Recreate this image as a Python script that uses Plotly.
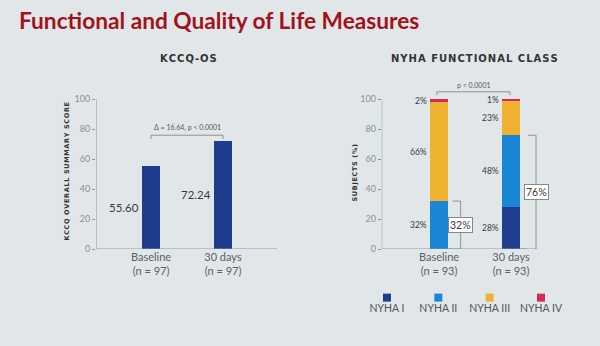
import plotly.graph_objects as go

# ---------------- data ----------------
kccq_categories = ["Baseline<br>(n = 97)", "30 days<br>(n = 97)"]
kccq_values = [55.60, 72.24]
kccq_labels = ["55.60", "72.24"]
kccq_note = "Δ = 16.64, p < 0.0001"

nyha_categories = ["Baseline<br>(n = 93)", "30 days<br>(n = 93)"]
nyha_classes = ["NYHA I", "NYHA II", "NYHA III", "NYHA IV"]
nyha_I = [0, 28]
nyha_II = [32, 48]
nyha_III = [66, 23]
nyha_IV = [2, 1]
nyha_improved = [32, 76]          # NYHA I + II
nyha_note = "p < 0.0001"
y_ticks = [0, 20, 40, 60, 80, 100]

# ---------------- styles ----------------
W, H = 600, 346
BG = "#e1e7e8"
NAVY = "#1f3b8c"
COLORS = ["#213d8f", "#1a86d6", "#f1b130", "#d42a5a"]
GRAY = "#8e9394"
TXT = "#3a3a3a"
FONT = "Lato"


def px_x(p):
    return p / W


def px_y(p):
    return 1 - p / H


def spaced(s):
    return "\u200a".join(s)


fig = go.Figure()

xs = [0, 1]

# KCCQ bars
fig.add_trace(go.Bar(x=xs, y=kccq_values, marker=dict(color=NAVY, line=dict(width=0)),
                     width=0.25, xaxis="x", yaxis="y", showlegend=False))

# NYHA stacked bars
for name, vals, col in zip(nyha_classes, [nyha_I, nyha_II, nyha_III, nyha_IV], COLORS):
    fig.add_trace(go.Bar(x=xs, y=vals, name=name, marker=dict(color=col, line=dict(width=0)),
                         width=0.25, xaxis="x2", yaxis="y2", showlegend=False))

# Legend (manual, marker above label)
fig.add_trace(go.Scatter(x=[0, 1, 2, 3], y=[0.5] * 4, mode="markers+text",
                         marker=dict(symbol="square", size=8, color=COLORS),
                         text=nyha_classes, textposition="bottom center",
                         textfont=dict(family=FONT, size=10.5, color="#555"),
                         cliponaxis=False,
                         xaxis="x3", yaxis="y3", showlegend=False, hoverinfo="skip"))

ydom = [px_y(252.7), px_y(82.5)]
yax_common = dict(range=[0, 112], tickvals=y_ticks, showgrid=False, zeroline=False,
                  showline=False, ticks="outside", ticklen=3, tickcolor=GRAY,
                  tickfont=dict(family=FONT, size=9, color="#8a8f90"), fixedrange=True)
xax_common = dict(tickvals=xs, showgrid=False, zeroline=False, showline=False, ticks="",
                  tickfont=dict(family=FONT, size=11, color="#5a5f60"), fixedrange=True)

fig.update_layout(
    width=W, height=H, margin=dict(l=0, r=0, t=0, b=0),
    paper_bgcolor=BG, plot_bgcolor="rgba(0,0,0,0)",
    barmode="stack",
    xaxis=dict(domain=[px_x(96), px_x(277)], range=[-0.764, 1.75], ticktext=kccq_categories, **xax_common),
    yaxis=dict(domain=ydom, **yax_common),
    xaxis2=dict(domain=[px_x(381.7), px_x(560)], range=[-0.796, 1.68], ticktext=nyha_categories,
                anchor="y2", **xax_common),
    yaxis2=dict(domain=ydom, anchor="x2", **yax_common),
    xaxis3=dict(domain=[px_x(370), px_x(560)], range=[-0.331, 3.37], visible=False, anchor="y3", fixedrange=True),
    yaxis3=dict(domain=[px_y(318), px_y(286)], range=[0, 1], visible=False, anchor="x3", fixedrange=True),
)

shapes = []
ann = []
line = dict(color=GRAY, width=1)

# axis lines as shapes
for xa, ya, xkey, xend in [("x", "y", "xaxis", 1.75), ("x2", "y2", "xaxis2", 1.22)]:
    rng = fig.layout[xkey].range
    shapes.append(dict(type="line", xref=xa, yref=ya, x0=rng[0], x1=rng[0], y0=0, y1=100, line=line))
    shapes.append(dict(type="line", xref=xa, yref=ya, x0=rng[0], x1=xend, y0=0, y1=0, line=line))

# KCCQ value labels
for x, v, t in zip(xs, kccq_values, kccq_labels):
    ann.append(dict(x=x, y=v / 2, xref="x", yref="y", text=t, showarrow=False, xanchor="right",
                    xshift=-10, font=dict(family=FONT, size=11.5, color=TXT)))

# KCCQ bracket
by = 76
shapes.append(dict(type="line", xref="x", yref="y", x0=0, x1=1, y0=by, y1=by, line=line))
shapes.append(dict(type="line", xref="x", yref="y", x0=0, x1=0, y0=by, y1=by - 2.5, line=line))
shapes.append(dict(type="line", xref="x", yref="y", x0=1, x1=1, y0=by, y1=by - 2.5, line=line))
ann.append(dict(x=0.5, y=by, xref="x", yref="y", text=kccq_note, showarrow=False, yanchor="bottom",
                yshift=1, font=dict(family=FONT, size=7, color="#555")))

# NYHA segment labels
stacks = [nyha_I, nyha_II, nyha_III, nyha_IV]
for i, x in enumerate(xs):
    base = 0
    for vals in stacks:
        v = vals[i]
        if v > 0:
            ann.append(dict(x=x, y=base + v / 2, xref="x2", yref="y2", text=f"{v}%", showarrow=False,
                            xanchor="right", xshift=-10, font=dict(family=FONT, size=8.5, color=TXT)))
        base += v

# NYHA improvement brackets
for x, v, bx in zip(xs, nyha_improved, [0.30, 0.347]):
    X = x + bx
    shapes.append(dict(type="line", xref="x2", yref="y2", x0=X, x1=X, y0=0, y1=v, line=line))
    shapes.append(dict(type="line", xref="x2", yref="y2", x0=X - 0.11, x1=X, y0=v, y1=v, line=line))
    shapes.append(dict(type="line", xref="x2", yref="y2", x0=x + 0.125, x1=X, y0=0, y1=0, line=line))
    ann.append(dict(x=X, y=v / 2, xref="x2", yref="y2", text=f"{v}%", showarrow=False,
                    bgcolor="#ffffff", bordercolor="#888", borderwidth=1, borderpad=1,
                    font=dict(family=FONT, size=10.5, color=TXT)))

# NYHA p bracket
py = 105
shapes.append(dict(type="line", xref="x2", yref="y2", x0=-0.03, x1=0.986, y0=py, y1=py, line=line))
shapes.append(dict(type="line", xref="x2", yref="y2", x0=-0.03, x1=-0.03, y0=py, y1=py - 2.3, line=line))
shapes.append(dict(type="line", xref="x2", yref="y2", x0=0.986, x1=0.986, y0=py, y1=py - 2.3, line=line))
ann.append(dict(x=0.48, y=py, xref="x2", yref="y2", text=nyha_note, showarrow=False, yanchor="bottom",
                yshift=1, font=dict(family=FONT, size=7, color="#555")))

# Titles
ann.append(dict(x=px_x(17), y=px_y(21), xref="paper", yref="paper", xanchor="left", yanchor="middle",
                text="<b>Functional and Quality of Life Measures</b>", showarrow=False,
                font=dict(family=FONT, size=22.7, color="#a3121c")))
ann.append(dict(x=px_x(188), y=px_y(59), xref="paper", yref="paper", xanchor="center", yanchor="middle",
                text="<b>" + spaced("KCCQ-OS") + "</b>",
                showarrow=False, font=dict(family="DejaVu Sans", size=10, color="#333")))
ann.append(dict(x=px_x(474), y=px_y(59), xref="paper", yref="paper", xanchor="center", yanchor="middle",
                text="<b>" + spaced("NYHA FUNCTIONAL CLASS") + "</b>",
                showarrow=False, font=dict(family="DejaVu Sans", size=10, color="#333")))
ann.append(dict(x=px_x(67), y=px_y(174), xref="paper", yref="paper", xanchor="center", yanchor="middle",
                text="<b>" + spaced("KCCQ OVERALL SUMMARY SCORE") + "</b>",
                textangle=-90, showarrow=False, font=dict(family="DejaVu Sans", size=6.5, color="#333")))
ann.append(dict(x=px_x(355), y=px_y(175), xref="paper", yref="paper", xanchor="center", yanchor="middle",
                text="<b>" + spaced("SUBJECTS (%)") + "</b>",
                textangle=-90, showarrow=False, font=dict(family="DejaVu Sans", size=6.5, color="#333")))

fig.update_layout(shapes=shapes, annotations=ann)
fig.write_html("out.html")
